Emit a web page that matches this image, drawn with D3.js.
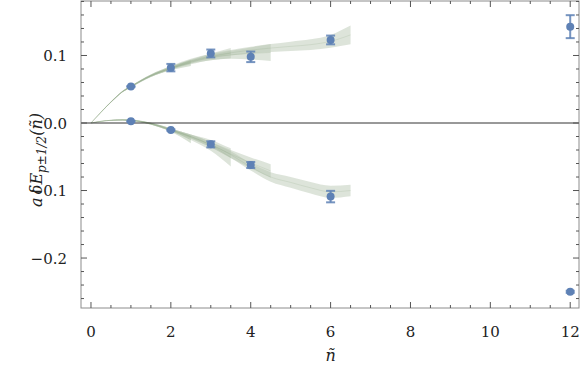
<!DOCTYPE html>
<html><head><meta charset="utf-8">
<script src="https://cdn.jsdelivr.net/npm/d3@7"></script>
<style>body{margin:0;background:#fff}svg{display:block}</style>
</head><body>
<script>
// ---- data ----
const xTicks = [0, 2, 4, 6, 8, 10, 12];
const yTicks = [-0.2, -0.1, 0.0, 0.1];
const yTickLabels = ["\u22120.2", "\u22120.1", "0.0", "0.1"];

// lattice points (p+1/2 upper, p-1/2 lower)
const ptN = [1, 2, 3, 4, 6, 12];
const upVal = [0.054, 0.082, 0.103, 0.098, 0.123, 0.1427];
const upErr = [0.0008, 0.0055, 0.0058, 0.0078, 0.0065, 0.017];
const loVal = [0.0025, -0.0104, -0.0316, -0.0622, -0.109, -0.250];
const loErr = [0.0008, 0.001, 0.0045, 0.0045, 0.0085, 0.0015];

// fit bands: n grid, centre, half width
const fitN = [0, 0.25, 0.5, 0.8, 1, 1.5, 2, 2.5, 3, 3.5, 4, 4.5, 5, 5.5, 6, 6.5];
// upper fits
const upD_c = [0, 0.016, 0.031, 0.047, 0.054, 0.070, 0.082, 0.092, 0.099, 0.104, 0.108, 0.111, 0.1135, 0.116, 0.121, 0.1305];
const upD_h = [0, 0.0004, 0.0008, 0.0012, 0.0015, 0.002, 0.0025, 0.003, 0.0035, 0.004, 0.005, 0.006, 0.007, 0.008, 0.0095, 0.0138];
const upC_c = [0, 0.016, 0.031, 0.047, 0.054, 0.070, 0.081, 0.090, 0.097, 0.101, 0.103, 0.1045];
const upC_h = [0, 0.0002, 0.0004, 0.0008, 0.001, 0.0015, 0.002, 0.003, 0.004, 0.006, 0.009, 0.0125];
const upB_c = [0, 0.016, 0.031, 0.047, 0.054, 0.070, 0.081, 0.091, 0.098, 0.1035];
const upB_h = [0, 0.0002, 0.0004, 0.0008, 0.001, 0.0015, 0.002, 0.003, 0.005, 0.0075];
const upA_c = [0, 0.016, 0.031, 0.047, 0.054, 0.070, 0.081, 0.089];
const upA_h = [0, 0.0002, 0.0004, 0.0008, 0.001, 0.002, 0.003, 0.0045];
// lower fits
const loD_c = [0, 0.0025, 0.004, 0.0045, 0.004, -0.001, -0.010, -0.020, -0.032, -0.047, -0.065, -0.080, -0.088, -0.096, -0.102, -0.100];
const loD_h = [0, 0.0003, 0.0005, 0.0008, 0.001, 0.0015, 0.002, 0.003, 0.004, 0.005, 0.0055, 0.007, 0.008, 0.0085, 0.009, 0.0085];
const loC_c = [0, 0.0025, 0.004, 0.0045, 0.004, -0.001, -0.010, -0.020, -0.032, -0.046, -0.059, -0.071];
const loC_h = [0, 0.0002, 0.0004, 0.0006, 0.0008, 0.0012, 0.002, 0.003, 0.004, 0.006, 0.008, 0.010];
const loB_c = [0, 0.0025, 0.004, 0.0045, 0.004, -0.001, -0.010, -0.021, -0.033, -0.051];
const loB_h = [0, 0.0002, 0.0004, 0.0006, 0.0008, 0.0012, 0.002, 0.004, 0.008, 0.0135];
const loA_c = [0, 0.0025, 0.004, 0.0045, 0.004, -0.001, -0.011, -0.0245];
const loA_h = [0, 0.0002, 0.0004, 0.0006, 0.0008, 0.0012, 0.002, 0.0055];

// ---- drawing ----
const W = 581, H = 371;
const svg = d3.select("body").append("svg").attr("width", W).attr("height", H);
const x = d3.scaleLinear().domain([-0.25, 12.22]).range([81, 579]);
const y = d3.scaleLinear().domain([-0.274, 0.1807]).range([308, 1]);
const FONT = "DejaVu Serif";

const bands = [
  [upD_c, upD_h], [loD_c, loD_h],
  [upC_c, upC_h], [loC_c, loC_h],
  [upB_c, upB_h], [loB_c, loB_h],
  [upA_c, upA_h], [loA_c, loA_h]
];
const area = d3.area().x(d => x(d.n)).y0(d => y(d.c - d.h)).y1(d => y(d.c + d.h)).curve(d3.curveMonotoneX);
const line = d3.line().x(d => x(d.n)).y(d => y(d.c)).curve(d3.curveMonotoneX);
const gB = svg.append("g");
bands.forEach(([c, h], k) => {
  const d = c.map((v, i) => ({ n: fitN[i], c: v, h: h[i] }));
  gB.append("path").attr("d", area(d)).attr("fill", k >= 6 ? "#a9bd9f" : "#b4c3ad").attr("fill-opacity", 0.45).attr("stroke", "none");
});
bands.forEach(([c, h]) => {
  const d = c.map((v, i) => ({ n: fitN[i], c: v, h: h[i] }));
  gB.append("path").attr("d", line(d)).attr("fill", "none").attr("stroke", "#8ea886").attr("stroke-opacity", 0.3).attr("stroke-width", 0.7);
});

// zero line
svg.append("line").attr("x1", x.range()[0]).attr("x2", x.range()[1]).attr("y1", y(0)).attr("y2", y(0))
  .attr("stroke", "#333").attr("stroke-width", 1);

// frame
svg.append("rect").attr("x", 81).attr("y", 1).attr("width", 498).attr("height", 307)
  .attr("fill", "none").attr("stroke", "#8c8c8c").attr("stroke-width", 1);

// ticks
const gT = svg.append("g").attr("stroke", "#555").attr("stroke-width", 1);
const xMinor = d3.range(0, 12.01, 0.5);
xMinor.forEach(v => {
  const major = xTicks.includes(v);
  const L = major ? 6 : 3;
  gT.append("line").attr("x1", x(v)).attr("x2", x(v)).attr("y1", 308).attr("y2", 308 - L);
  gT.append("line").attr("x1", x(v)).attr("x2", x(v)).attr("y1", 1).attr("y2", 1 + L);
});
const yMinor = d3.range(-0.26, 0.181, 0.02).map(v => Math.round(v * 100) / 100);
yMinor.forEach(v => {
  const major = yTicks.some(t => Math.abs(t - v) < 1e-9);
  const L = major ? 6 : 3;
  gT.append("line").attr("x1", 81).attr("x2", 81 + L).attr("y1", y(v)).attr("y2", y(v));
  gT.append("line").attr("x1", 579).attr("x2", 579 - L).attr("y1", y(v)).attr("y2", y(v));
});

// tick labels
svg.append("g").selectAll("text").data(xTicks).join("text")
  .attr("x", d => x(d)).attr("y", 337).attr("text-anchor", "middle")
  .attr("font-family", FONT).attr("font-size", 15).attr("fill", "#222").text(d => d);
svg.append("g").selectAll("text").data(yTicks).join("text")
  .attr("x", 67).attr("y", d => y(d) + 5.5).attr("text-anchor", "end")
  .attr("font-family", FONT).attr("font-size", 15).attr("fill", "#222").text((d, i) => yTickLabels[i]);

// axis labels
svg.append("text").attr("x", x(6)).attr("y", 361).attr("text-anchor", "middle")
  .attr("font-family", FONT).attr("font-size", 16).attr("font-style", "italic").attr("fill", "#222").text("\u00f1");
const yl = svg.append("text").attr("transform", "translate(42,160) rotate(-90)").attr("text-anchor", "middle")
  .attr("font-family", FONT).attr("font-size", 16).attr("font-style", "italic").attr("fill", "#222");
yl.append("tspan").text("a\u2009\u03b4E");
yl.append("tspan").attr("font-size", 12).attr("dy", 4).text("p\u00b11/2");
yl.append("tspan").attr("dy", -4).text("(\u00f1)");

// points with error bars
const BLUE = "#5e81b5";
const gP = svg.append("g");
[[upVal, upErr], [loVal, loErr]].forEach(([vals, errs]) => {
  vals.forEach((v, i) => {
    const cx = x(ptN[i]);
    const y1 = y(v + errs[i]), y2 = y(v - errs[i]);
    gP.append("line").attr("x1", cx).attr("x2", cx).attr("y1", y1).attr("y2", y2).attr("stroke", BLUE).attr("stroke-width", 2).attr("stroke-opacity", 0.85);
    [y1, y2].forEach(yy => gP.append("line").attr("x1", cx - 4.5).attr("x2", cx + 4.5).attr("y1", yy).attr("y2", yy)
      .attr("stroke", BLUE).attr("stroke-width", 2).attr("stroke-opacity", 0.85));
    gP.append("circle").attr("cx", cx).attr("cy", y(v)).attr("r", 4).attr("fill", BLUE);
  });
});
</script>
</body></html>
